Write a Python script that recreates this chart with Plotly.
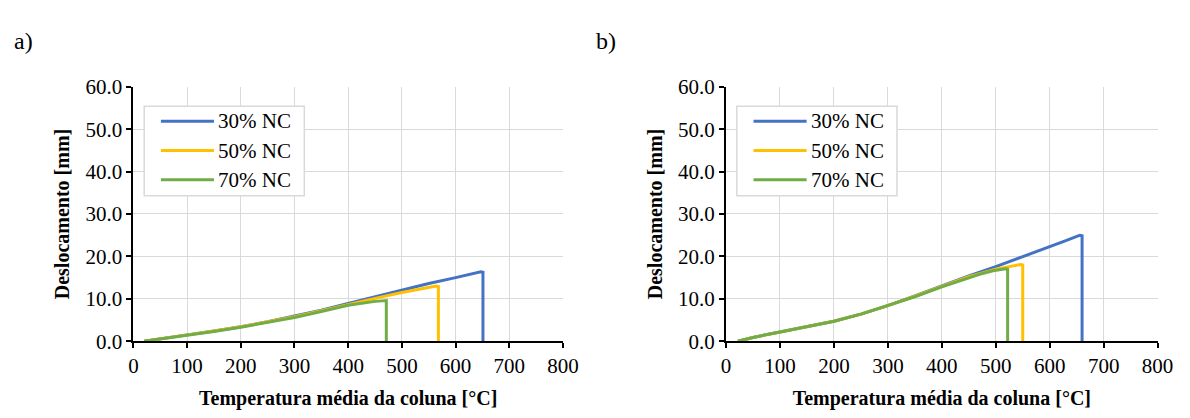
import plotly.graph_objects as go

# Mean column temperature [°C] and lateral displacement [mm] for each load level
# Panel a)
temp_a_30 = [20, 50, 100, 150, 200, 250, 300, 350, 400, 450, 500, 550, 600, 630, 647, 651, 651]
disp_a_30 = [0, 0.5, 1.5, 2.4, 3.4, 4.6, 5.9, 7.3, 8.9, 10.5, 12.1, 13.6, 15.0, 15.9, 16.4, 16.3, 0]
temp_a_50 = [20, 50, 100, 150, 200, 250, 300, 350, 400, 450, 500, 540, 564, 568, 568]
disp_a_50 = [0, 0.5, 1.5, 2.4, 3.4, 4.6, 5.8, 7.2, 8.7, 10.1, 11.5, 12.5, 13.0, 12.9, 0]
temp_a_70 = [20, 50, 100, 150, 200, 250, 300, 350, 400, 450, 468, 471, 471]
disp_a_70 = [0, 0.5, 1.5, 2.3, 3.3, 4.4, 5.6, 7.0, 8.5, 9.4, 9.7, 9.6, 0]

# Panel b)
temp_b_30 = [22, 50, 100, 150, 200, 250, 300, 350, 400, 450, 500, 550, 600, 630, 648, 656, 660, 660]
disp_b_30 = [0, 0.9, 2.2, 3.4, 4.7, 6.4, 8.4, 10.7, 13.1, 15.4, 17.6, 19.9, 22.2, 23.7, 24.6, 25.0, 24.9, 0]
temp_b_50 = [22, 50, 100, 150, 200, 250, 300, 350, 400, 450, 500, 530, 546, 550, 550]
disp_b_50 = [0, 0.9, 2.2, 3.4, 4.7, 6.4, 8.4, 10.6, 12.9, 15.2, 17.0, 17.8, 18.1, 18.0, 0]
temp_b_70 = [22, 50, 100, 150, 200, 250, 300, 350, 400, 440, 470, 495, 510, 518, 522, 522]
disp_b_70 = [0, 0.9, 2.2, 3.4, 4.7, 6.4, 8.4, 10.5, 12.8, 14.6, 15.8, 16.6, 17.0, 17.1, 17.0, 0]

series_names = ["30% NC", "50% NC", "70% NC"]
series_colors = ["#4472C4", "#FFC000", "#70AD47"]
panel_labels = ["a)", "b)"]

x_title = "Temperatura média da coluna [°C]"
y_title = "Deslocamento [mm]"

FONT = "Liberation Serif"
W, H = 1190, 418

panels = [
    ([temp_a_30, temp_a_50, temp_a_70], [disp_a_30, disp_a_50, disp_a_70]),
    ([temp_b_30, temp_b_50, temp_b_70], [disp_b_30, disp_b_50, disp_b_70]),
]

# plot areas in pixels (left, right), shared vertical extent
x_px = [(130.7, 568.0), (734.0, 1173.3)]
y_px = (79.3, 349.3)

fig = go.Figure()

for p, (temps, disps) in enumerate(panels):
    suffix = "" if p == 0 else str(p + 1)
    for name, color, t, d in zip(series_names, series_colors, temps, disps):
        fig.add_trace(go.Scatter(
            x=t, y=d, mode="lines", name=name,
            line=dict(color=color, width=3),
            xaxis="x" + suffix, yaxis="y" + suffix,
            showlegend=False,
        ))

axis_common = dict(
    showgrid=True, gridcolor="#d9d9d9", gridwidth=1,
    showline=True, linecolor="black", linewidth=2,
    ticks="outside", ticklen=5, tickwidth=2, tickcolor="black",
    zeroline=False,
    tickfont=dict(family=FONT, size=21, color="black"),
)

title_font = dict(family=FONT, size=20, color="black", weight="bold")

layout_axes = {}
for p in range(2):
    suffix = "" if p == 0 else str(p + 1)
    l, r = x_px[p]
    layout_axes["xaxis" + suffix] = dict(
        axis_common,
        domain=[l / W, r / W], anchor="y" + suffix,
        range=[0, 800], dtick=100, tick0=0,
        title=dict(text=x_title, font=title_font, standoff=14),
    )
    layout_axes["yaxis" + suffix] = dict(
        axis_common,
        domain=[(H - y_px[1]) / H, (H - y_px[0]) / H], anchor="x" + suffix,
        range=[0, 60], dtick=10, tick0=0, tickformat=".1f",
        title=dict(text=y_title, font=title_font, standoff=10),
    )

fig.update_layout(
    width=W, height=H,
    margin=dict(l=0, r=0, t=0, b=0),
    paper_bgcolor="white", plot_bgcolor="white",
    font=dict(family=FONT, color="black"),
    **layout_axes,
)

# Legend boxes, drawn inside each plot area
shapes = []
annotations = []
row_y = [116, 147, 178]
for p in range(2):
    l, _ = x_px[p]
    shapes.append(dict(
        type="rect", xref="paper", yref="paper", layer="above",
        x0=(l + 11) / W, x1=(l + 174) / W,
        y0=(H - 195) / H, y1=(H - 100) / H,
        line=dict(color="#d9d9d9", width=1.5), fillcolor="white",
    ))
    for name, color, yy in zip(series_names, series_colors, row_y):
        shapes.append(dict(
            type="line", xref="paper", yref="paper", layer="above",
            x0=(l + 28) / W, x1=(l + 82) / W,
            y0=(H - yy) / H, y1=(H - yy) / H,
            line=dict(color=color, width=3),
        ))
        annotations.append(dict(
            xref="paper", yref="paper", x=(l + 84) / W, y=(H - yy) / H,
            text=name, showarrow=False, xanchor="left", yanchor="middle",
            font=dict(family=FONT, size=21, color="black"),
        ))

for lbl, xx in zip(panel_labels, [7, 600]):
    annotations.append(dict(
        xref="paper", yref="paper", x=xx / W, y=(H - 31) / H,
        text=lbl, showarrow=False, xanchor="left", yanchor="middle",
        font=dict(family=FONT, size=24, color="black"),
    ))

fig.update_layout(shapes=shapes, annotations=annotations)

fig.write_html("out.html")
